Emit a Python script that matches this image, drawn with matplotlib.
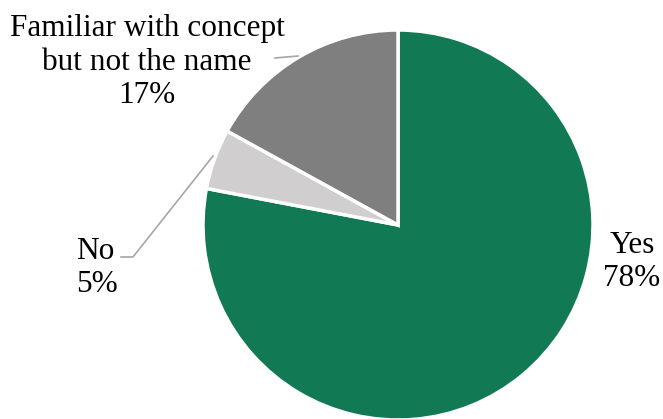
import matplotlib
matplotlib.use("Agg")
import matplotlib.pyplot as plt

labels = ["Yes", "No", "Familiar with concept\nbut not the name"]
values = [78, 5, 17]
colors = ["#117A55", "#D0CECE", "#7F7F7F"]

W, H = 663, 419
fig = plt.figure(figsize=(W / 100, H / 100), dpi=100)
cx, cy, r = 398, 225, 195
ax = fig.add_axes([(cx - r) / W, (H - cy - r) / H, 2 * r / W, 2 * r / H])

ax.pie(values, colors=colors, startangle=90, counterclock=False, radius=1,
       wedgeprops=dict(edgecolor="white", linewidth=2.5))
ax.set_xlim(-1, 1)
ax.set_ylim(-1, 1)
ax.set_aspect("equal")
ax.axis("off")

def d(px, py):
    return (px - cx) / r, (cy - py) / r

font = dict(family="Liberation Serif", fontsize=22.5, color="black")
lc = "#A6A6A6"

# Yes
x, y = d(632, 262)
ax.text(x, y, f"{labels[0]}\n{values[0]}%", ha="center", va="center",
        linespacing=1.2, clip_on=False, **font)
# No
x, y = d(76, 268)
ax.text(x, y, f"{labels[1]}\n{values[1]}%", ha="left", va="center",
        linespacing=1.2, clip_on=False, **font)
p1, p2, p3 = d(213, 156), d(133, 257), d(121, 257)
ax.plot([p1[0], p2[0], p3[0]], [p1[1], p2[1], p3[1]], color=lc, lw=1.2, clip_on=False)
# Familiar
x, y = d(147, 62)
ax.text(x, y, f"{labels[2]}\n{values[2]}%", ha="center", va="center",
        linespacing=1.2, clip_on=False, **font)
q1, q2 = d(275, 58), d(298, 56)
ax.plot([q1[0], q2[0]], [q1[1], q2[1]], color=lc, lw=1.2, clip_on=False)

fig.savefig("out.png", dpi=100)
